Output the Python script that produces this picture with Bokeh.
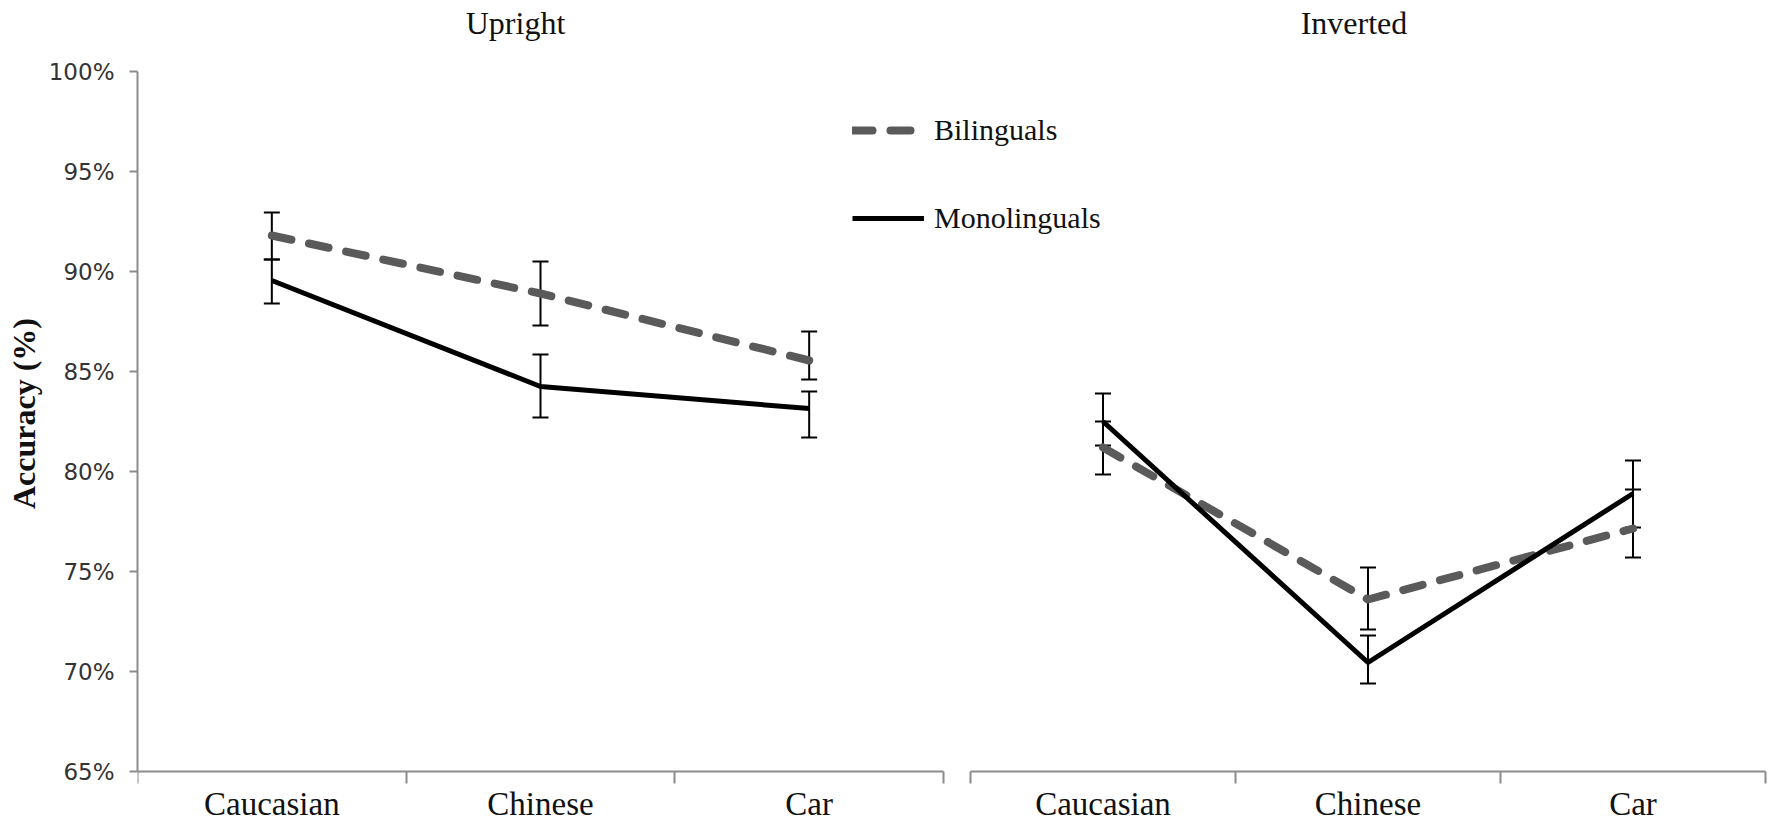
from bokeh.plotting import figure
from bokeh.models import (ColumnDataSource, Whisker, TeeHead, FixedTicker, PrintfTickFormatter,
                          Legend, LegendItem, Range1d, LinearAxis, Label)
from bokeh.embed import file_html
from bokeh.resources import INLINE

# ---- data ----
categories = ["Caucasian", "Chinese", "Car"]
panels = ["Upright", "Inverted"]
series_names = ["Bilinguals", "Monolinguals"]

bil_upright = [91.8, 88.9, 85.55]
bil_upright_lo = [90.6, 87.3, 84.6]
bil_upright_hi = [92.95, 90.5, 87.0]
mono_upright = [89.55, 84.25, 83.15]
mono_upright_lo = [88.4, 82.7, 81.7]
mono_upright_hi = [90.6, 85.85, 84.0]

bil_inverted = [81.2, 73.6, 77.15]
bil_inverted_lo = [79.85, 72.1, 75.7]
bil_inverted_hi = [82.5, 75.2, 79.1]
mono_inverted = [82.5, 70.45, 78.9]
mono_inverted_lo = [81.3, 69.4, 77.2]
mono_inverted_hi = [83.9, 71.8, 80.55]

y_ticks = [65, 70, 75, 80, 85, 90, 95, 100]

SERIF = "Liberation Serif"
SANS = "DejaVu Sans"
AXIS_GREY = "#8c8c8c"
TEXT = "#111111"

ncat = len(categories)
xs = [i + 0.5 for i in range(ncat)]
bounds = list(range(ncat + 1))

# one canvas holding both panels; each panel has its own x scale
p = figure(width=1772, height=826, output_backend="svg", toolbar_location=None,
           x_range=Range1d(0, 6.0856), y_range=Range1d(62.25, 103.55),
           min_border_left=137, min_border_right=0, min_border_top=0, min_border_bottom=0,
           x_axis_location=None, y_axis_location="left",
           background_fill_color="white", border_fill_color="white")
p.extra_x_ranges = {"inv": Range1d(-3.1434, 3.0264)}
p.outline_line_color = None
p.grid.visible = False

# y axis
ya = p.yaxis[0]
ya.bounds = (y_ticks[0], y_ticks[-1])
ya.ticker = FixedTicker(ticks=y_ticks)
ya.formatter = PrintfTickFormatter(format="%d%%")
ya.major_tick_out = 8
ya.major_tick_in = 0
ya.minor_tick_line_color = None
ya.major_tick_line_color = AXIS_GREY
ya.major_tick_line_width = 2
ya.axis_line_color = AXIS_GREY
ya.axis_line_width = 2
ya.major_label_standoff = 15
ya.major_label_text_font = SANS
ya.major_label_text_font_size = "23px"
ya.major_label_text_color = "#333333"
ya.axis_label = "Accuracy (%)"
ya.axis_label_text_font = SERIF
ya.axis_label_text_font_size = "32px"
ya.axis_label_text_font_style = "bold"
ya.axis_label_text_color = TEXT
ya.axis_label_standoff = 4

panel_data = [
    ("default", panels[0], -25, bil_upright, bil_upright_lo, bil_upright_hi,
     mono_upright, mono_upright_lo, mono_upright_hi),
    ("inv", panels[1], -14, bil_inverted, bil_inverted_lo, bil_inverted_hi,
     mono_inverted, mono_inverted_lo, mono_inverted_hi),
]

legend_renderers = None
for rname, title, toff, bil, bil_lo, bil_hi, mono, mono_lo, mono_hi in panel_data:
    xa = LinearAxis(x_range_name=rname, fixed_location=y_ticks[0], bounds=(0, ncat))
    xa.ticker = FixedTicker(ticks=xs, minor_ticks=bounds)
    xa.major_label_overrides = {x: c for x, c in zip(xs, categories)}
    xa.major_tick_line_color = None
    xa.major_tick_out = 12
    xa.major_tick_in = 0
    xa.minor_tick_out = 12
    xa.minor_tick_in = 0
    xa.minor_tick_line_color = AXIS_GREY
    xa.minor_tick_line_width = 2
    xa.axis_line_color = AXIS_GREY
    xa.axis_line_width = 2
    xa.major_label_standoff = 2
    xa.major_label_text_font = SERIF
    xa.major_label_text_font_size = "33px"
    xa.major_label_text_color = TEXT
    p.add_layout(xa, "below")

    p.add_layout(Label(x=ncat / 2, y=y_ticks[-1], x_range_name=rname, text=title,
                       x_offset=toff, y_offset=49, text_align="center", text_baseline="middle",
                       text_font=SERIF, text_font_size="32px", text_color=TEXT))

    src_b = ColumnDataSource(dict(x=xs, y=bil, lo=bil_lo, hi=bil_hi))
    src_m = ColumnDataSource(dict(x=xs, y=mono, lo=mono_lo, hi=mono_hi))
    for src in (src_b, src_m):
        p.add_layout(Whisker(base="x", lower="lo", upper="hi", source=src, x_range_name=rname,
                             line_color="black", line_width=2,
                             upper_head=TeeHead(size=16, line_color="black", line_width=2),
                             lower_head=TeeHead(size=16, line_color="black", line_width=2)))

    rb = p.line("x", "y", source=src_b, x_range_name=rname, line_color="#5a5a5a", line_width=8,
                line_dash="20 18", line_cap="round", line_join="round")
    rm = p.line("x", "y", source=src_m, x_range_name=rname, line_color="black", line_width=5,
                line_join="round")
    if legend_renderers is None:
        legend_renderers = (rb, rm)

leg = Legend(items=[LegendItem(label=series_names[0], renderers=[legend_renderers[0]]),
                    LegendItem(label=series_names[1], renderers=[legend_renderers[1]])],
             location=(715, 591), orientation="vertical",
             glyph_width=72, glyph_height=34, label_height=34, spacing=54,
             label_standoff=10, padding=0, margin=0,
             border_line_color=None, background_fill_alpha=0,
             label_text_font=SERIF, label_text_font_size="30px",
             label_text_color=TEXT)
p.add_layout(leg)

open("out.html", "w").write(file_html(p, INLINE))
